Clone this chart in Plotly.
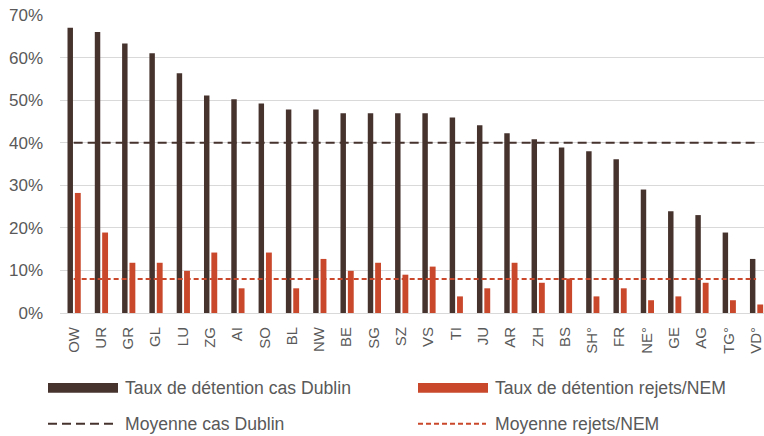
import plotly.graph_objects as go

categories = ["OW", "UR", "GR", "GL", "LU", "ZG", "AI", "SO", "BL", "NW", "BE", "SG", "SZ",
              "VS", "TI", "JU", "AR", "ZH", "BS", "SH°", "FR", "NE°", "GE", "AG", "TG°", "VD°"]
dublin = [0.670, 0.660, 0.633, 0.610, 0.563, 0.511, 0.502, 0.492, 0.478, 0.478, 0.469, 0.469, 0.469,
          0.469, 0.459, 0.441, 0.422, 0.408, 0.389, 0.380, 0.361, 0.290, 0.239, 0.230, 0.189, 0.127]
nem = [0.282, 0.189, 0.118, 0.118, 0.099, 0.142, 0.058, 0.142, 0.058, 0.127, 0.099, 0.118, 0.090,
       0.109, 0.039, 0.058, 0.118, 0.071, 0.081, 0.039, 0.058, 0.030, 0.039, 0.071, 0.030, 0.020]
mean_dublin = 0.40
mean_nem = 0.08
y_ticks = [0, 0.1, 0.2, 0.3, 0.4, 0.5, 0.6, 0.7]
y_tick_labels = ["0%", "10%", "20%", "30%", "40%", "50%", "60%", "70%"]

legend_labels = ["Taux de détention cas Dublin", "Taux de détention rejets/NEM",
                 "Moyenne cas Dublin", "Moyenne rejets/NEM"]

DARK = "#46332E"
ORANGE = "#C9472B"
GRAY_TXT = "#595959"
FONT = "Liberation Sans, Arial, sans-serif"

W, H = 764, 436
ML, MR, MT, MB = 60, 0, 14.5, 123

fig = go.Figure()
fig.add_trace(go.Bar(x=categories, y=dublin, width=0.2, offset=-0.225,
                     marker=dict(color=DARK, line=dict(width=0)), name=legend_labels[0]))
fig.add_trace(go.Bar(x=categories, y=nem, width=0.215, offset=0.045,
                     marker=dict(color=ORANGE, line=dict(width=0)), name=legend_labels[1]))
fig.add_trace(go.Scatter(x=categories, y=[mean_dublin] * len(categories), mode="lines",
                         line=dict(color=DARK, width=2, dash="9px,5px"), name=legend_labels[2]))
fig.add_trace(go.Scatter(x=categories, y=[mean_nem] * len(categories), mode="lines",
                         line=dict(color=ORANGE, width=2, dash="5px,3px"), name=legend_labels[3]))

plot_w = W - ML - MR
plot_h = H - MT - MB


def px_x(px):
    return (px - ML) / plot_w


def px_y(py):
    return (H - MB - py) / plot_h


shapes = []
annotations = []
legend_items = [
    (48, 388, "bar", DARK, legend_labels[0]),
    (418, 388, "bar", ORANGE, legend_labels[1]),
    (48, 424, "dash1", DARK, legend_labels[2]),
    (418, 424, "dash2", ORANGE, legend_labels[3]),
]
for x0, yc, kind, col, txt in legend_items:
    if kind == "bar":
        shapes.append(dict(type="rect", xref="paper", yref="paper",
                           x0=px_x(x0), x1=px_x(x0 + 70), y0=px_y(yc + 5), y1=px_y(yc - 5),
                           fillcolor=col, line=dict(width=0)))
    else:
        dash = "9px,5px" if kind == "dash1" else "5px,3px"
        shapes.append(dict(type="line", xref="paper", yref="paper",
                           x0=px_x(x0), x1=px_x(x0 + 68), y0=px_y(yc), y1=px_y(yc),
                           line=dict(color=col, width=2, dash=dash)))
    annotations.append(dict(xref="paper", yref="paper", x=px_x(x0 + 75), y=px_y(yc),
                            xanchor="left", yanchor="middle", showarrow=False, text=txt,
                            font=dict(family=FONT, size=17.6, color=GRAY_TXT)))

fig.update_layout(
    width=W, height=H,
    margin=dict(l=ML, r=MR, t=MT, b=MB, pad=0),
    paper_bgcolor="white", plot_bgcolor="white",
    barmode="overlay",
    showlegend=False,
    hovermode=False,
    font=dict(family=FONT, color=GRAY_TXT, size=15),
    shapes=shapes,
    annotations=annotations,
    xaxis=dict(type="category", range=[-0.5, 25.29], tickangle=-90,
               showgrid=False, showline=False, zeroline=False, ticks="",
               tickfont=dict(family=FONT, size=15, color=GRAY_TXT), ticklabelstandoff=10),
    yaxis=dict(range=[0, 0.7], tickvals=y_ticks, ticktext=y_tick_labels,
               showgrid=True, gridcolor="#D9D9D9", gridwidth=1.3,
               zeroline=True, zerolinecolor="#D9D9D9", zerolinewidth=1.3,
               showline=False, ticks="",
               tickfont=dict(family=FONT, size=17, color=GRAY_TXT), ticklabelstandoff=16),
)

fig.write_html("out.html", config={"displayModeBar": False},
               post_script="document.body.style.margin='0';")
